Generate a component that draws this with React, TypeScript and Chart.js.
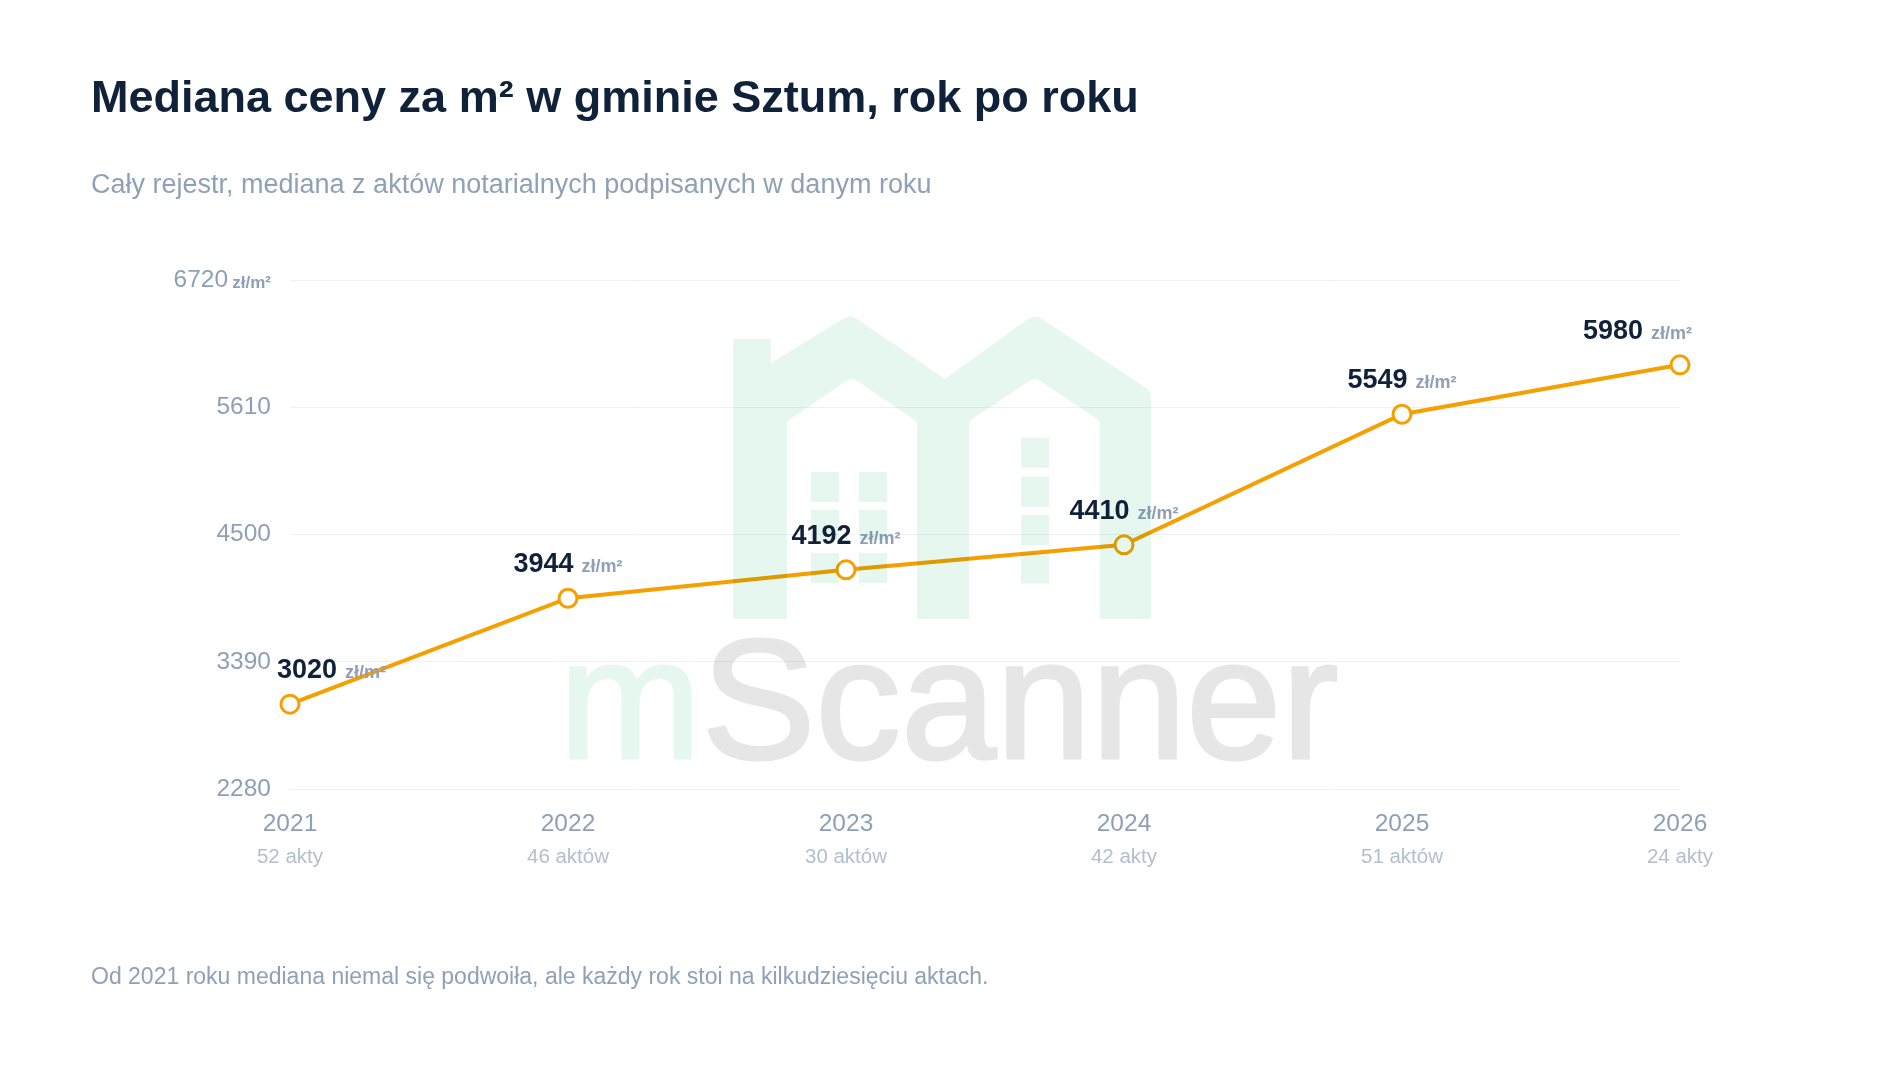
import React, { useEffect, useRef } from "react";
import { Chart, registerables } from "chart.js";

Chart.register(...registerables);

// ---- data ----
const YEARS = ["2021", "2022", "2023", "2024", "2025", "2026"];
const DEED_COUNTS = ["52 akty", "46 aktów", "30 aktów", "42 akty", "51 aktów", "24 akty"];
const MEDIAN_PRICE = [3020, 3944, 4192, 4410, 5549, 5980];
const Y_TICKS = [2280, 3390, 4500, 5610, 6720];
const UNIT = "zł/m²";

const TITLE = "Mediana ceny za m² w gminie Sztum, rok po roku";
const SUBTITLE = "Cały rejestr, mediana z aktów notarialnych podpisanych w danym roku";
const FOOTER = "Od 2021 roku mediana niemal się podwoiła, ale każdy rok stoi na kilkudziesięciu aktach.";

// ---- styles ----
const FONT = "'Liberation Sans', Arial, Helvetica, sans-serif";
const ORANGE = "#f5a000";
const NAVY = "#10213a";
const SLATE = "#8ea0b6";
const SLATE_LIGHT = "#b3bfce";
const GRID = "#edf0f4";
const MINT = "#e6f7f0";
const WM_GRAY = "#e6e6e6";

const valueLabels = {
  id: "valueLabels",
  afterDatasetsDraw(chart: any) {
    const ctx = chart.ctx;
    const meta = chart.getDatasetMeta(0);
    const area = chart.chartArea;
    ctx.save();
    meta.data.forEach((pt: any, i: number) => {
      const num = String(MEDIAN_PRICE[i]);
      ctx.font = `bold 27px ${FONT}`;
      const wNum = ctx.measureText(num).width;
      ctx.font = `bold 18px ${FONT}`;
      const wUnit = ctx.measureText(UNIT).width;
      const gap = 8;
      const total = wNum + gap + wUnit;
      let left = pt.x - total / 2;
      if (left < area.left - 13) left = area.left - 13;
      if (left + total > area.right + 12) left = area.right + 12 - total;
      const base = pt.y - 26;
      ctx.textBaseline = "alphabetic";
      ctx.textAlign = "left";
      ctx.font = `bold 27px ${FONT}`;
      ctx.fillStyle = NAVY;
      ctx.fillText(num, left, base);
      ctx.font = `bold 18px ${FONT}`;
      ctx.fillStyle = SLATE;
      ctx.fillText(UNIT, left + wNum + gap, base);
    });
    ctx.restore();
  },
};

const axisUnit = {
  id: "axisUnit",
  afterDraw(chart: any) {
    const ctx = chart.ctx;
    const y = chart.scales.y;
    const top = Y_TICKS[Y_TICKS.length - 1];
    ctx.save();
    ctx.font = `bold 17px ${FONT}`;
    ctx.fillStyle = SLATE;
    ctx.textAlign = "right";
    ctx.textBaseline = "alphabetic";
    ctx.fillText(UNIT, y.right - 19, y.getPixelForValue(top) + 7.6);
    ctx.restore();
  },
};

function paintWatermark(ctx: CanvasRenderingContext2D) {
  ctx.fillStyle = MINT;
  ctx.beginPath();
  // outer silhouette
  ctx.moveTo(733, 339);
  ctx.lineTo(771, 339);
  ctx.lineTo(771, 363);
  ctx.lineTo(843, 319);
  ctx.quadraticCurveTo(850, 314, 857, 319);
  ctx.lineTo(945, 379);
  ctx.lineTo(1028, 319);
  ctx.quadraticCurveTo(1035, 314, 1042, 319);
  ctx.lineTo(1146, 388);
  ctx.quadraticCurveTo(1151, 392, 1151, 398);
  ctx.lineTo(1151, 616);
  ctx.quadraticCurveTo(1151, 619, 1148, 619);
  ctx.lineTo(736, 619);
  ctx.quadraticCurveTo(733, 619, 733, 616);
  ctx.closePath();
  // inner left house
  ctx.moveTo(787, 619);
  ctx.lineTo(787, 425);
  ctx.quadraticCurveTo(787, 421, 790, 419);
  ctx.lineTo(848, 380);
  ctx.quadraticCurveTo(852, 377, 856, 380);
  ctx.lineTo(913, 419);
  ctx.quadraticCurveTo(917, 421, 917, 425);
  ctx.lineTo(917, 619);
  ctx.closePath();
  // inner right house
  ctx.moveTo(969, 619);
  ctx.lineTo(969, 425);
  ctx.quadraticCurveTo(969, 421, 972, 419);
  ctx.lineTo(1031, 380);
  ctx.quadraticCurveTo(1035, 377, 1039, 380);
  ctx.lineTo(1097, 419);
  ctx.quadraticCurveTo(1100, 421, 1100, 425);
  ctx.lineTo(1100, 619);
  ctx.closePath();
  ctx.fill("evenodd");
  // windows
  const winL = [[811, 472], [859, 472], [811, 510], [859, 510], [811, 553], [859, 553]];
  winL.forEach(([x, y]) => ctx.fillRect(x, y, 28, 30));
  const winR = [437.7, 476.7, 515, 553.3];
  winR.forEach((y) => ctx.fillRect(1021, y, 28, 30));
  // wordmark
  ctx.font = `171px ${FONT}`;
  ctx.textBaseline = "alphabetic";
  ctx.textAlign = "left";
  ctx.lineWidth = 3;
  ctx.lineJoin = "round";
  const x0 = 559;
  const yb = 758;
  ctx.strokeStyle = MINT;
  ctx.fillText("m", x0, yb);
  ctx.strokeText("m", x0, yb);
  const wm = ctx.measureText("m").width;
  ctx.fillStyle = WM_GRAY;
  ctx.strokeStyle = WM_GRAY;
  ctx.fillText("Scanner", x0 + wm, yb);
  ctx.strokeText("Scanner", x0 + wm, yb);
}

const watermark = {
  id: "watermark",
  afterDraw(chart: any) {
    const off = document.createElement("canvas");
    off.width = chart.width;
    off.height = chart.height;
    const octx = off.getContext("2d");
    if (!octx) return;
    octx.fillStyle = "#ffffff";
    octx.fillRect(0, 0, off.width, off.height);
    paintWatermark(octx);
    const ctx = chart.ctx;
    ctx.save();
    ctx.setTransform(1, 0, 0, 1, 0, 0);
    ctx.globalCompositeOperation = "multiply";
    ctx.drawImage(off, 0, 0);
    ctx.restore();
  },
};

export default function App() {
  const ref = useRef<HTMLCanvasElement | null>(null);

  useEffect(() => {
    if (!ref.current) return;
    const chart = new Chart(ref.current, {
      type: "line",
      data: {
        labels: YEARS,
        datasets: [
          {
            data: MEDIAN_PRICE,
            borderColor: ORANGE,
            borderWidth: 4,
            pointRadius: 9,
            pointHoverRadius: 9,
            pointBorderWidth: 3,
            pointBackgroundColor: "#ffffff",
            pointBorderColor: ORANGE,
            tension: 0,
            clip: false as any,
            xAxisID: "x",
            yAxisID: "y",
          },
        ],
      },
      options: {
        responsive: false,
        animation: false,
        events: [],
        layout: { padding: { top: 280, right: 220, bottom: 199, left: 0 } },
        plugins: {
          legend: { display: false },
          tooltip: { enabled: false },
          title: { display: false },
        },
        scales: {
          x: {
            type: "category",
            position: "bottom",
            offset: false,
            grid: { display: false, drawTicks: false },
            border: { display: false },
            ticks: {
              padding: 21,
              maxRotation: 0,
              autoSkip: false,
              color: SLATE,
              font: { family: FONT, size: 24.5 },
            },
            afterFit: (s: any) => {
              s.height = 52;
            },
          },
          x2: {
            type: "category",
            labels: DEED_COUNTS,
            position: "bottom",
            offset: false,
            grid: { display: false, drawTicks: false },
            border: { display: false },
            ticks: {
              padding: 4,
              maxRotation: 0,
              autoSkip: false,
              color: SLATE_LIGHT,
              font: { family: FONT, size: 20.5 },
            },
            afterFit: (s: any) => {
              s.height = 40;
            },
          },
          y: {
            min: Y_TICKS[0],
            max: Y_TICKS[Y_TICKS.length - 1],
            afterBuildTicks: (s: any) => {
              s.ticks = Y_TICKS.map((v) => ({ value: v }));
            },
            grid: { color: GRID, lineWidth: 1, drawTicks: false },
            border: { display: false },
            ticks: {
              padding: 19,
              color: SLATE,
              font: { family: FONT, size: 24.5 },
              callback: (v: any) =>
                v === Y_TICKS[Y_TICKS.length - 1] ? `${v}      \u200A` : `${v}`,
            },
            afterFit: (s: any) => {
              s.width = 290;
            },
          },
        },
      },
      plugins: [valueLabels, axisUnit, watermark],
    });
    return () => chart.destroy();
  }, []);

  const text = (top: number, size: number, color: string, weight: number, content: string) => (
    <div
      style={{
        position: "absolute",
        left: 91,
        top,
        fontFamily: FONT,
        fontSize: size,
        fontWeight: weight,
        color,
        lineHeight: 1,
        whiteSpace: "nowrap",
      }}
    >
      {content}
    </div>
  );

  return (
    <div
      style={{
        position: "fixed",
        left: 0,
        top: 0,
        width: 1900,
        height: 1080,
        background: "#ffffff",
        overflow: "hidden",
      }}
    >
      <canvas
        ref={ref}
        width={1900}
        height={1080}
        style={{ position: "absolute", left: 0, top: 0, width: 1900, height: 1080 }}
      />
      {text(74, 45, NAVY, 700, TITLE)}
      {text(171, 27, "#8fa1b7", 400, SUBTITLE)}
      {text(965, 23, "#8fa1b7", 400, FOOTER)}
    </div>
  );
}
